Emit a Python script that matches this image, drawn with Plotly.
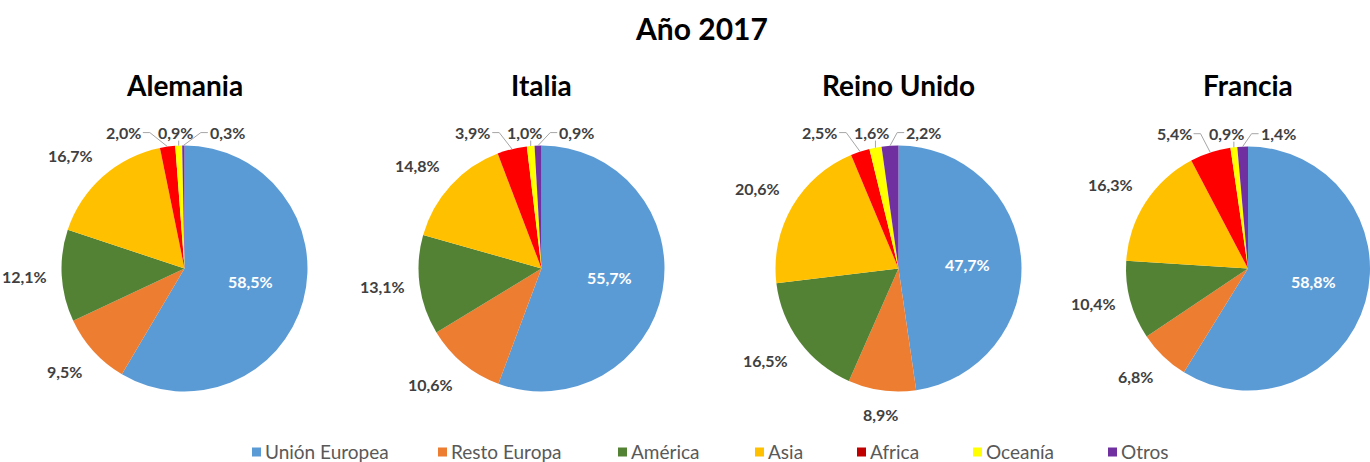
import math
import plotly.graph_objects as go

# ---------------- data ----------------
categories = ["Unión Europea", "Resto Europa", "América", "Asia", "Africa", "Oceanía", "Otros"]
countries = ["Alemania", "Italia", "Reino Unido", "Francia"]
alemania = [58.5, 9.5, 12.1, 16.7, 2.0, 0.9, 0.3]
italia = [55.7, 10.6, 13.1, 14.8, 3.9, 1.0, 0.9]
reino_unido = [47.7, 8.9, 16.5, 20.6, 2.5, 1.6, 2.2]
francia = [58.8, 6.8, 10.4, 16.3, 5.4, 0.9, 1.4]
series = [alemania, italia, reino_unido, francia]
title_text = "Año 2017"

# ---------------- style / layout ----------------
W, H = 1370, 462
FONT = "Lato"
slice_colors = ["#5B9BD5", "#ED7D31", "#548235", "#FFC000", "#FF0000", "#FFFF00", "#7030A0"]
legend_colors = ["#5B9BD5", "#ED7D31", "#548235", "#FFC000", "#C00000", "#FFFF00", "#7030A0"]
pie_cx = [184.5, 541.5, 898.5, 1248.0]
pie_r = [123.0, 123.0, 123.0, 122.0]
pie_cy = 268.5
legend_sq_x = [252, 438, 618, 755, 857, 973, 1108]
legend_y = 451
LABEL_COLOR = "#404040"
LINE_COLOR = "#A6A6A6"


def px(x):
    return x / W


def py(y):
    return 1 - y / H


def text_width(s):
    w = 0
    for ch in s:
        if ch.isdigit():
            w += 9
        elif ch == ",":
            w += 4
        elif ch == "%":
            w += 13
        else:
            w += 9
    return w


fig = go.Figure()
annotations = []
shapes = []

for i, (name, vals) in enumerate(zip(countries, series)):
    cx, R = pie_cx[i], pie_r[i]
    fig.add_trace(go.Pie(
        labels=categories, values=vals, textinfo="none", sort=False,
        direction="clockwise", rotation=0,
        marker=dict(colors=slice_colors, line=dict(width=0)),
        domain=dict(x=[px(cx - R), px(cx + R)], y=[py(pie_cy + R), py(pie_cy - R)]),
        showlegend=False, hoverinfo="label+percent", name=name,
    ))
    annotations.append(dict(text=f"<b>{name}</b>", x=px(cx), y=py(85), xref="paper", yref="paper",
                            showarrow=False, font=dict(family=FONT, size=28, color="black"),
                            xanchor="center", yanchor="middle"))

    total = sum(vals)
    cum = 0.0
    cluster = []
    for j, v in enumerate(vals):
        theta = 360.0 * (cum + v / 2) / total
        cum += v
        t = math.radians(theta)
        dx, dy = math.sin(t), -math.cos(t)
        txt = f"{v:.1f}".replace(".", ",") + "%"
        if j == 0:
            lx, ly = cx + 0.56 * R * dx, pie_cy + 0.4 * R * dy
            annotations.append(dict(text=f"<b>{txt}</b>", x=px(lx), y=py(ly), xref="paper", yref="paper",
                                    showarrow=False, font=dict(family=FONT, size=16, color="white"),
                                    xanchor="center", yanchor="middle"))
            continue
        if theta > 338 or theta < 22:
            th = theta - 360 if theta > 180 else theta
            cluster.append(dict(th=th, x=cx + 1.15 * R * dx, txt=txt,
                                sx=cx + R * dx, sy=pie_cy + R * dy))
            continue
        ax, ay = cx + 1.1 * R * dx, pie_cy + 1.1 * R * dy
        xa = "right" if dx < -0.35 else ("left" if dx > 0.35 else "center")
        ya = "bottom" if dy < -0.35 else ("top" if dy > 0.35 else "middle")
        annotations.append(dict(text=f"<b>{txt}</b>", x=px(ax), y=py(ay), xref="paper", yref="paper",
                                showarrow=False, font=dict(family=FONT, size=16, color=LABEL_COLOR),
                                xanchor=xa, yanchor=ya))

    # spread the small labels near the top horizontally
    cluster.sort(key=lambda c: c["th"])
    SEP = 52
    for _ in range(100):
        moved = False
        for k in range(len(cluster) - 1):
            d = cluster[k + 1]["x"] - cluster[k]["x"]
            if d < SEP:
                delta = (SEP - d) / 2
                cluster[k]["x"] -= delta
                cluster[k + 1]["x"] += delta
                moved = True
        if not moved:
            break
    ly = pie_cy - 1.105 * R
    for c in cluster:
        lx = c["x"]
        w = text_width(c["txt"])
        annotations.append(dict(text=f"<b>{c['txt']}</b>", x=px(lx), y=py(ly), xref="paper", yref="paper",
                                showarrow=False, font=dict(family=FONT, size=16, color=LABEL_COLOR),
                                xanchor="center", yanchor="middle"))
        sx, sy = c["sx"], c["sy"]
        if lx + w / 2 < sx - 2:
            pts = [(sx, sy), (lx + w / 2 + 9, ly), (lx + w / 2 + 2, ly)]
        elif lx - w / 2 > sx + 2:
            pts = [(sx, sy), (lx - w / 2 - 9, ly), (lx - w / 2 - 2, ly)]
        else:
            pts = [(sx, sy), (sx, ly + 8)]
        path = "M " + " L ".join(f"{px(a):.5f},{py(b):.5f}" for a, b in pts)
        shapes.append(dict(type="path", path=path, xref="paper", yref="paper",
                           line=dict(color=LINE_COLOR, width=1)))

# main title
annotations.append(dict(text=f"<b>{title_text}</b>", x=px(701), y=py(28), xref="paper", yref="paper",
                        showarrow=False, font=dict(family=FONT, size=30, color="black"),
                        xanchor="center", yanchor="middle"))

# legend (swatches + labels)
SQ = 9
for k, cat in enumerate(categories):
    x0 = legend_sq_x[k]
    shapes.append(dict(type="rect", xref="paper", yref="paper",
                       x0=px(x0), x1=px(x0 + SQ), y0=py(legend_y + 1 + SQ / 2), y1=py(legend_y + 1 - SQ / 2),
                       fillcolor=legend_colors[k], line=dict(width=0)))
    annotations.append(dict(text=cat, x=px(x0 + SQ + 2), y=py(legend_y), xref="paper", yref="paper",
                            showarrow=False, font=dict(family=FONT, size=19, color="#595959"),
                            xanchor="left", yanchor="middle"))

fig.update_layout(
    width=W, height=H,
    margin=dict(l=0, r=0, t=0, b=0),
    paper_bgcolor="white", plot_bgcolor="white",
    showlegend=False,
    annotations=annotations,
    shapes=shapes,
)

fig.write_html("out.html", config={"displayModeBar": False},
               post_script="document.body.style.margin='0';document.body.style.overflow='hidden';")
